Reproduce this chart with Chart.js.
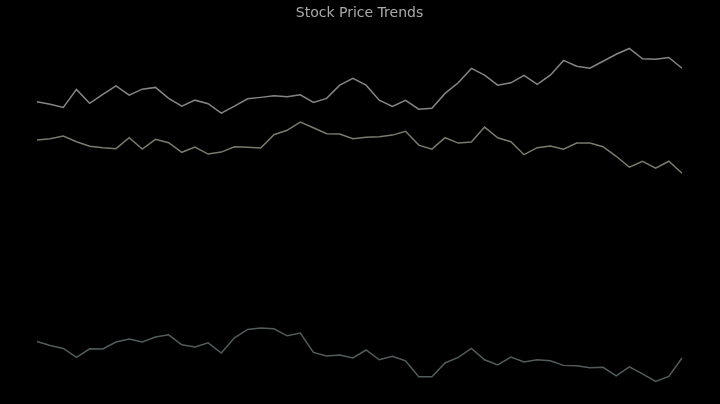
<!DOCTYPE html>
<html>
<head>
<meta charset="utf-8">
<script src="https://cdn.jsdelivr.net/npm/chart.js@4.4.0/dist/chart.umd.min.js"></script>
<style>
  html, body { margin: 0; padding: 0; background: #000; }
  #wrap { width: 720px; height: 404px; }
</style>
</head>
<body>
<div id="wrap"><canvas id="chart"></canvas></div>
<script>
// 50 trading days
const days = Array.from({ length: 50 }, (_, i) => 'Day ' + (i + 1));

const stockA = [149.2, 148.0, 146.4, 155.4, 148.4, 152.9, 157.2, 152.5, 155.5, 156.4,
  150.9, 147.0, 150.0, 148.2, 143.5, 147.0, 150.7, 151.4, 152.2, 151.7,
  152.7, 148.9, 150.9, 157.5, 160.9, 157.5, 150.0, 146.9, 149.9, 145.5,
  146.0, 153.4, 158.7, 165.9, 162.5, 157.5, 158.7, 162.4, 157.9, 162.5,
  169.9, 167.0, 166.0, 169.5, 173.0, 175.9, 170.7, 170.5, 171.4, 166.0];

const stockB = [130.0, 130.7, 132.0, 129.2, 126.9, 126.2, 125.7, 131.2, 125.5, 130.4,
  128.7, 123.9, 126.5, 123.0, 124.0, 126.7, 126.4, 126.0, 132.7, 134.9,
  139.0, 136.2, 133.2, 133.0, 130.7, 131.4, 131.7, 132.5, 134.4, 127.5,
  125.5, 131.2, 128.5, 129.0, 136.5, 131.2, 129.2, 122.7, 126.2, 127.0,
  125.4, 128.5, 128.5, 126.7, 121.9, 116.5, 119.4, 116.0, 119.4, 113.4];

const stockC = [29.2, 27.2, 25.7, 21.2, 25.5, 25.4, 28.9, 30.4, 28.9, 31.4,
  32.5, 27.5, 26.4, 28.5, 23.4, 31.0, 35.2, 35.9, 35.5, 32.0,
  33.4, 23.7, 21.9, 22.4, 20.9, 24.9, 20.0, 21.7, 19.5, 11.5,
  11.5, 18.4, 21.2, 25.7, 20.0, 17.4, 21.4, 18.9, 20.0, 19.5,
  17.2, 17.0, 16.0, 16.2, 12.0, 16.5, 12.9, 9.2, 11.7, 20.9];

// 5% breathing room above and below the data
const all = stockA.concat(stockB, stockC);
const lo = Math.min(...all), hi = Math.max(...all);
const pad = (hi - lo) * 0.05;

new Chart(document.getElementById('chart'), {
  type: 'line',
  data: {
    labels: days,
    datasets: [
      { label: 'Stock A', data: stockA, borderColor: '#858585' },
      { label: 'Stock B', data: stockB, borderColor: '#7a7a6e' },
      { label: 'Stock C', data: stockC, borderColor: '#525c5c' }
    ]
  },
  options: {
    responsive: true,
    maintainAspectRatio: false,
    animation: false,
    layout: { padding: { left: 37, right: 38, top: 0, bottom: 6 } },
    elements: {
      line: { borderWidth: 1.5, tension: 0 },
      point: { radius: 0 }
    },
    scales: {
      x: { display: false, offset: false },
      y: { display: false, min: lo - pad, max: hi + pad }
    },
    plugins: {
      legend: { display: false },
      tooltip: { enabled: false },
      title: {
        display: true,
        text: 'Stock Price Trends',
        color: '#aaaaaa',
        font: { family: 'DejaVu Sans', size: 14, weight: 'normal' },
        padding: { top: 5, bottom: 10 }
      }
    }
  },
  plugins: [{
    id: 'bg',
    beforeDraw(chart) {
      const ctx = chart.ctx;
      ctx.save();
      ctx.fillStyle = '#000';
      ctx.fillRect(0, 0, chart.width, chart.height);
      ctx.restore();
    }
  }]
});
</script>
</body>
</html>
